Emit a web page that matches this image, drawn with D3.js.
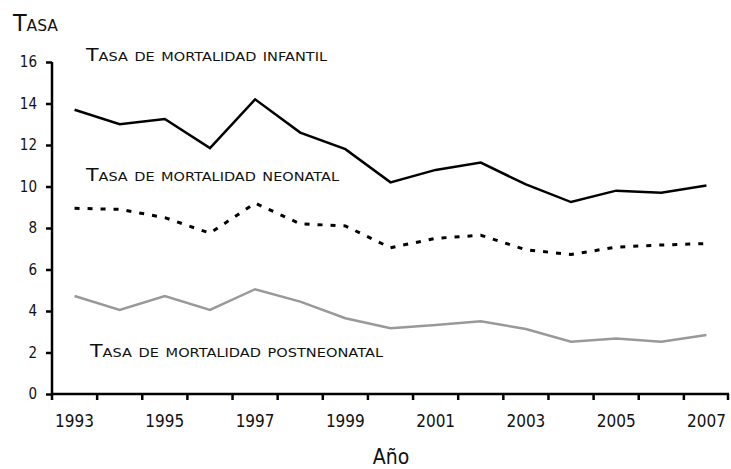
<!DOCTYPE html>
<html>
<head>
<meta charset="utf-8">
<script src="https://cdn.jsdelivr.net/npm/d3@7"></script>
<style>
  body { margin: 0; background: #fff; }
  text { font-family: "DejaVu Sans Condensed", "DejaVu Sans", sans-serif; fill: #111; }
  .sc { font-family: "DejaVu Sans", sans-serif; font-variant: small-caps; }
</style>
</head>
<body>
<div id="chart"></div>
<script>
var years = ['1993','1994','1995','1996','1997','1998','1999','2000','2001','2002','2003','2004','2005','2006','2007'];
var infantil = [13.7, 13.0, 13.25, 11.85, 14.2, 12.6, 11.8, 10.2, 10.8, 11.15, 10.1, 9.25, 9.8, 9.7, 10.05];
var neonatal = [8.95, 8.9, 8.5, 7.75, 9.2, 8.2, 8.1, 7.05, 7.5, 7.65, 6.95, 6.72, 7.08, 7.18, 7.25];
var postneonatal = [4.72, 4.05, 4.72, 4.05, 5.05, 4.45, 3.65, 3.17, 3.32, 3.5, 3.13, 2.52, 2.68, 2.52, 2.84];
var yTicks = [0, 2, 4, 6, 8, 10, 12, 14, 16];
var xLabels = ['1993','1995','1997','1999','2001','2003','2005','2007'];

var width = 731, height = 469;
var margin = {left: 52, right: 2, top: 62, bottom: 75};

var svg = d3.select('#chart')
    .append('svg')
    .attr('width', width)
    .attr('height', height);

var x = d3.scaleBand()
    .domain(years)
    .range([margin.left, width - margin.right]);

var y = d3.scaleLinear()
    .domain([0, 16])
    .range([height - margin.bottom, margin.top]);

var line = d3.line()
    .x(function(d, i) { return x(years[i]) + x.bandwidth() / 2; })
    .y(function(d) { return y(d); });

// y axis
var yAxis = svg.append('g')
    .attr('transform', 'translate(' + margin.left + ',0)')
    .call(d3.axisLeft(y).tickValues(yTicks).tickSize(6).tickPadding(9));

// x axis, ticks on band edges
var xAxis = svg.append('g')
    .attr('transform', 'translate(0,' + y(0) + ')');
xAxis.append('line')
    .attr('x1', margin.left)
    .attr('x2', width - margin.right)
    .attr('stroke', '#000')
    .attr('stroke-width', 2.5);
xAxis.selectAll('.xt')
    .data(years.concat(['end']))
    .enter()
    .append('line')
    .attr('class', 'xt')
    .attr('x1', function(d, i) { return i < years.length ? x(d) : x.range()[1] - 1; })
    .attr('x2', function(d, i) { return i < years.length ? x(d) : x.range()[1] - 1; })
    .attr('y1', 0)
    .attr('y2', 6)
    .attr('stroke', '#000')
    .attr('stroke-width', 2.5);
xAxis.selectAll('.xl')
    .data(xLabels)
    .enter()
    .append('text')
    .attr('class', 'xl')
    .attr('x', function(d) { return x(d) + x.bandwidth() / 2; })
    .attr('y', 33)
    .attr('text-anchor', 'middle')
    .style('font-size', '17px')
    .text(function(d) { return d; });

yAxis.select('.domain').attr('stroke-width', 2.5).attr('d', 'M0,' + y(0) + 'V' + y(16));
yAxis.selectAll('.tick line').attr('stroke-width', 2.5);
yAxis.selectAll('.tick text')
    .style('font-size', '15px')
    .style('font-family', '"DejaVu Sans Condensed", sans-serif')
    .attr('fill', '#111');

// lines
svg.append('path')
    .datum(postneonatal)
    .attr('d', line)
    .attr('fill', 'none')
    .attr('stroke', '#999')
    .attr('stroke-width', 2.5);

svg.append('path')
    .datum(neonatal)
    .attr('d', line)
    .attr('fill', 'none')
    .attr('stroke', '#000')
    .attr('stroke-width', 3)
    .style('stroke-dasharray', '5,8');

svg.append('path')
    .datum(infantil)
    .attr('d', line)
    .attr('fill', 'none')
    .attr('stroke', '#000')
    .attr('stroke-width', 2.5);

// labels (stretched small caps, like the wide original type)
svg.append('text').attr('class', 'sc')
    .attr('x', 13).attr('y', 31)
    .attr('textLength', 45).attr('lengthAdjust', 'spacingAndGlyphs')
    .style('font-size', '23px')
    .text('Tasa');

svg.append('text').attr('class', 'sc')
    .attr('x', 86).attr('y', 61)
    .attr('textLength', 241).attr('lengthAdjust', 'spacingAndGlyphs')
    .style('font-size', '17px')
    .text('Tasa de mortalidad infantil');

svg.append('text').attr('class', 'sc')
    .attr('x', 86).attr('y', 181)
    .attr('textLength', 253).attr('lengthAdjust', 'spacingAndGlyphs')
    .style('font-size', '17px')
    .text('Tasa de mortalidad neonatal');

svg.append('text').attr('class', 'sc')
    .attr('x', 90).attr('y', 357)
    .attr('textLength', 293).attr('lengthAdjust', 'spacingAndGlyphs')
    .style('font-size', '17px')
    .text('Tasa de mortalidad postneonatal');

svg.append('text')
    .attr('x', 391).attr('y', 464)
    .attr('text-anchor', 'middle')
    .style('font-size', '21px')
    .text('Año');
</script>
</body>
</html>
